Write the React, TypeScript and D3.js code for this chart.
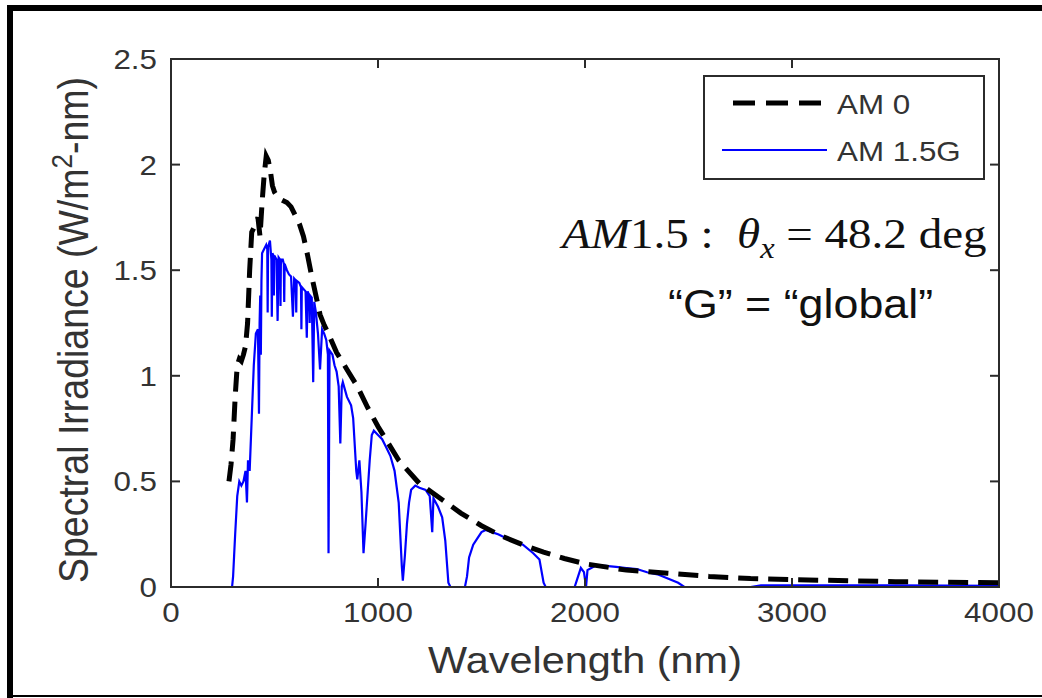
import React from "react";
import * as d3 from "d3";

// ---- data (wavelength nm, spectral irradiance W/m^2-nm) ----
const am0Wavelength = [280, 290, 300, 310, 320, 330, 340, 350, 360, 370, 380, 390, 400, 410, 420, 430, 440, 450, 460, 470, 480, 490, 500, 520, 540, 560, 580, 600, 620, 640, 660, 680, 700, 720, 740, 760, 800, 850, 900, 950, 1000, 1050, 1100, 1200, 1300, 1400, 1500, 1600, 1700, 1800, 1900, 2000, 2200, 2400, 2600, 2800, 3000, 3500, 4000];
const am0Values = [0.50, 0.58, 0.70, 0.90, 1.05, 1.08, 1.07, 1.10, 1.14, 1.25, 1.50, 1.68, 1.70, 1.72, 1.75, 1.66, 1.82, 1.95, 2.04, 2.02, 1.97, 1.90, 1.87, 1.84, 1.83, 1.82, 1.80, 1.76, 1.72, 1.66, 1.57, 1.47, 1.38, 1.29, 1.24, 1.20, 1.11, 1.03, 0.95, 0.85, 0.76, 0.68, 0.60, 0.49, 0.42, 0.35, 0.29, 0.24, 0.20, 0.165, 0.135, 0.11, 0.08, 0.065, 0.05, 0.04, 0.035, 0.025, 0.02];

const am15Wavelength = [280, 295, 300, 305, 310, 320, 330, 340, 350, 360, 367, 372, 380, 390, 400, 410, 420, 425, 428, 431, 434, 437, 440, 450, 460, 465, 467, 469, 478, 485, 487, 490, 495, 497, 499, 510, 515, 520, 527, 529, 531, 540, 545, 547, 549, 560, 570, 580, 589, 595, 603, 605, 607, 620, 628, 630, 632, 650, 656, 660, 668, 670, 672, 680, 687, 692, 700, 710, 720, 730, 740, 750, 758, 761, 766, 780, 790, 800, 810, 818, 825, 830, 850, 870, 880, 895, 900, 910, 920, 930, 940, 950, 960, 970, 980, 1000, 1020, 1040, 1060, 1080, 1100, 1115, 1120, 1130, 1140, 1150, 1160, 1180, 1200, 1230, 1250, 1262, 1268, 1290, 1310, 1325, 1340, 1350, 1420, 1430, 1440, 1460, 1480, 1500, 1520, 1550, 1580, 1600, 1650, 1700, 1750, 1780, 1800, 1810, 1950, 1960, 1980, 1995, 2005, 2012, 2030, 2050, 2100, 2150, 2200, 2250, 2300, 2350, 2400, 2450, 2480, 2800, 2850, 3000, 3500, 4000];
const am15Values = [0, 0, 0.05, 0.15, 0.25, 0.43, 0.50, 0.48, 0.50, 0.55, 0.40, 0.60, 0.55, 0.80, 1.05, 1.20, 1.22, 0.82, 1.25, 1.38, 1.10, 1.45, 1.58, 1.60, 1.62, 1.60, 1.30, 1.61, 1.64, 1.55, 1.28, 1.58, 1.57, 1.38, 1.57, 1.55, 1.26, 1.56, 1.55, 1.33, 1.55, 1.55, 1.53, 1.35, 1.53, 1.50, 1.48, 1.47, 1.28, 1.46, 1.45, 1.30, 1.45, 1.44, 1.42, 1.22, 1.42, 1.40, 1.18, 1.40, 1.38, 1.25, 1.38, 1.37, 0.97, 1.35, 1.30, 1.20, 1.03, 1.22, 1.20, 1.17, 1.10, 0.16, 1.12, 1.10, 1.05, 1.02, 0.95, 0.68, 0.95, 0.97, 0.90, 0.86, 0.80, 0.55, 0.51, 0.60, 0.45, 0.16, 0.30, 0.45, 0.60, 0.72, 0.74, 0.72, 0.70, 0.66, 0.62, 0.55, 0.40, 0.10, 0.03, 0.15, 0.30, 0.40, 0.46, 0.48, 0.47, 0.46, 0.43, 0.26, 0.42, 0.38, 0.33, 0.22, 0.02, 0, 0, 0.05, 0.14, 0.20, 0.23, 0.26, 0.27, 0.26, 0.25, 0.24, 0.22, 0.20, 0.16, 0.13, 0.02, 0, 0, 0.03, 0.09, 0.07, 0, 0.08, 0.09, 0.10, 0.10, 0.095, 0.09, 0.085, 0.07, 0.06, 0.04, 0.02, 0, 0, 0.008, 0.008, 0.008, 0.006];

const xTicks = [0, 1000, 2000, 3000, 4000];
const yTicks = [0, 0.5, 1, 1.5, 2, 2.5];
const yTickLabels = ["0", "0.5", "1", "1.5", "2", "2.5"];
const legendLabels = ["AM 0", "AM 1.5G"];

const SX = 1.12;

function SText(props: { x: number; y: number; size: number; anchor?: string; children: React.ReactNode; rotate?: boolean; family?: string; fill?: string }) {
  const { x, y, size, anchor = "start", children, rotate = false, family = "'Liberation Sans', Arial, sans-serif", fill = "#333" } = props;
  const t = `translate(${x},${y}) scale(${SX},1)` + (rotate ? " rotate(-90)" : "");
  return (
    <text transform={t} textAnchor={anchor} fontFamily={family} fontSize={size} fill={fill} style={{ whiteSpace: "pre" }}>
      {children}
    </text>
  );
}

export default function App() {
  const left = 171, right = 999, top = 59, bottom = 587;
  const x = d3.scaleLinear().domain([0, 4000]).range([left, right]);
  const y = d3.scaleLinear().domain([0, 2.5]).range([bottom, top]);
  const line = d3.line<[number, number]>().x(d => x(d[0])).y(d => y(d[1]));
  const am0 = am0Wavelength.map((w, i) => [w, am0Values[i]] as [number, number]);
  const am15 = am15Wavelength.map((w, i) => [w, am15Values[i]] as [number, number]);
  const axisColor = "#2b2b2b";
  const tickLen = 9;
  const serif = "'Liberation Serif', 'Times New Roman', serif";

  return (
    <div style={{ position: "absolute", left: 0, top: 0 }}>
      <svg width={1042} height={698} style={{ display: "block", background: "#fff" }}>
        {/* outer frame */}
        <rect x={7} y={5} width={1035} height={6} fill="#000" />
        <rect x={7} y={5} width={6} height={693} fill="#000" />
        <rect x={7} y={695} width={1035} height={2} fill="#000" />

        <defs>
          <clipPath id="plotclip">
            <rect x={left} y={top} width={right - left} height={bottom - top + 3} />
          </clipPath>
        </defs>

        {/* data */}
        <g clipPath="url(#plotclip)">
          <path d={line(am15) || ""} fill="none" stroke="#0000ff" strokeWidth={2.2} />
          <path d={line(am0) || ""} fill="none" stroke="#000" strokeWidth={5} strokeDasharray="20,10" />
        </g>

        {/* axes box */}
        <rect x={left} y={top} width={right - left} height={bottom - top} fill="none" stroke={axisColor} strokeWidth={2} />
        {xTicks.slice(1, -1).map(t => (
          <g key={"xt" + t}>
            <line x1={x(t)} x2={x(t)} y1={bottom} y2={bottom - tickLen} stroke={axisColor} strokeWidth={2} />
            <line x1={x(t)} x2={x(t)} y1={top} y2={top + tickLen} stroke={axisColor} strokeWidth={2} />
          </g>
        ))}
        {yTicks.slice(1, -1).map(t => (
          <g key={"yt" + t}>
            <line x1={left} x2={left + tickLen} y1={y(t)} y2={y(t)} stroke={axisColor} strokeWidth={2} />
            <line x1={right} x2={right - tickLen} y1={y(t)} y2={y(t)} stroke={axisColor} strokeWidth={2} />
          </g>
        ))}

        {/* tick labels */}
        {xTicks.map(t => (
          <SText key={"xl" + t} x={x(t)} y={622} size={28} anchor="middle">{String(t)}</SText>
        ))}
        {yTicks.map((t, i) => (
          <SText key={"yl" + t} x={157} y={y(t) + 10} size={28} anchor="end">{yTickLabels[i]}</SText>
        ))}

        {/* axis labels */}
        <SText x={585} y={673} size={37} anchor="middle">Wavelength (nm)</SText>
        <SText x={88} y={330} size={37.5} anchor="middle" rotate>
          Spectral Irradiance (W/m<tspan dy={-14} fontSize={26}>2</tspan><tspan dy={14}>-nm)</tspan>
        </SText>

        {/* legend */}
        <rect x={704} y={76} width={280} height={103} fill="#fff" stroke={axisColor} strokeWidth={2} />
        <line x1={733} x2={827} y1={103} y2={103} stroke="#000" strokeWidth={5} strokeDasharray="22,11" />
        <line x1={722} x2={827} y1={150} y2={150} stroke="#0000ff" strokeWidth={2} />
        <SText x={837} y={114} size={28}>{legendLabels[0]}</SText>
        <SText x={837} y={161} size={28}>{legendLabels[1]}</SText>

        {/* annotations */}
        <SText x={562} y={248} size={42} family={serif} fill="#111">
          <tspan fontStyle="italic">AM</tspan>1.5 :  <tspan fontStyle="italic">θ</tspan><tspan fontStyle="italic" fontSize={29} dy={10}>x</tspan><tspan dy={-10}> = 48.2 deg</tspan>
        </SText>
        <SText x={668} y={318} size={40} fill="#111">“G” = “global”</SText>
      </svg>
    </div>
  );
}
